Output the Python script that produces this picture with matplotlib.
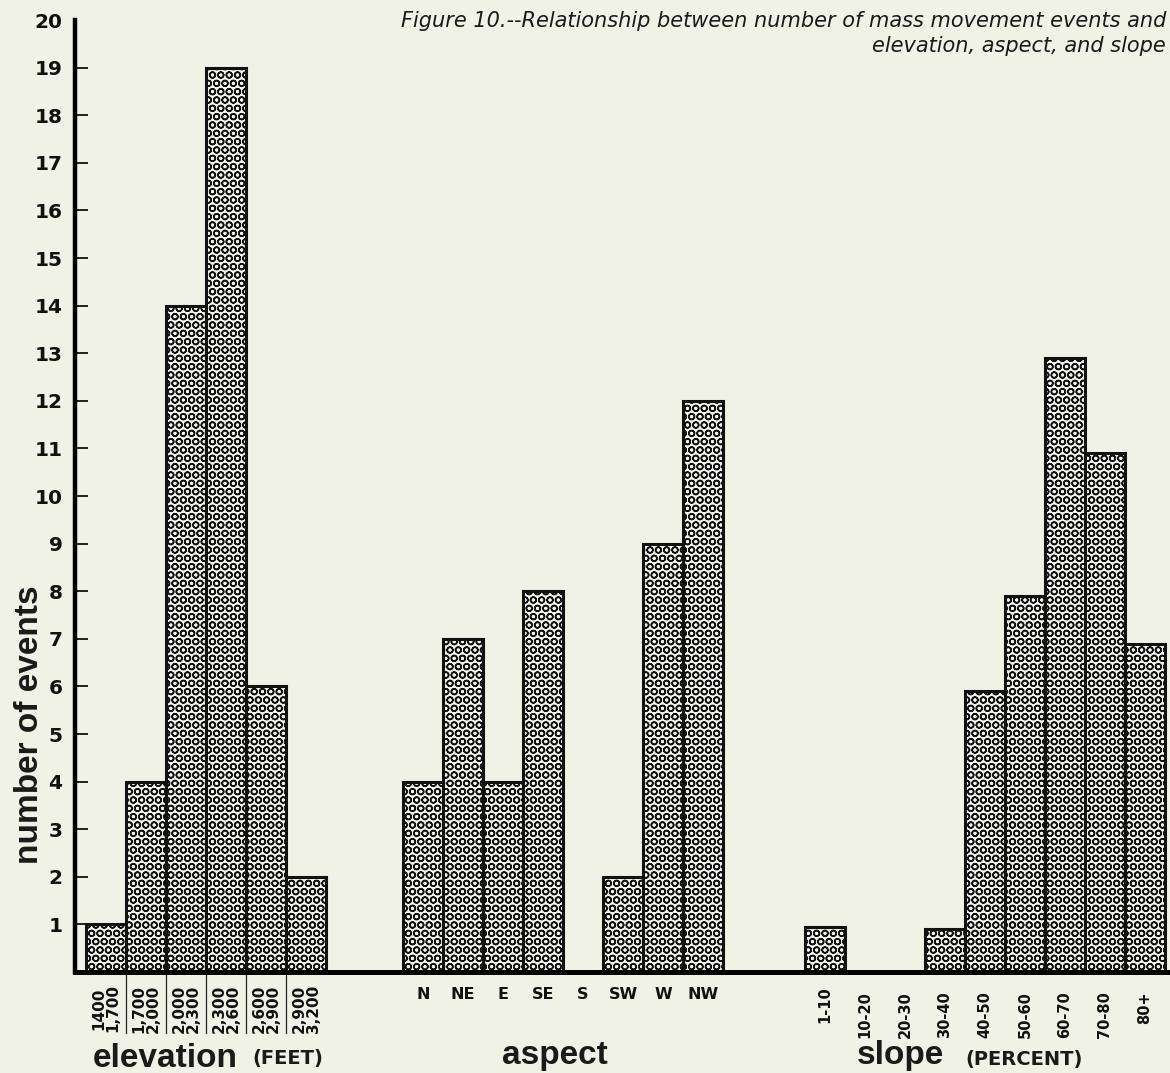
import numpy as np
import matplotlib.pyplot as plt
import matplotlib.transforms as mtransforms

# ------------------------- DATA -------------------------
elev_labels = ['1400\n1,700', '1,700\n2,000', '2,000\n2,300', '2,300\n2,600', '2,600\n2,900', '2,900\n3,200']
elev_counts = [1, 4, 14, 19, 6, 2]

aspect_labels = ['N', 'NE', 'E', 'SE', 'S', 'SW', 'W', 'NW']
aspect_counts = [4, 7, 4, 8, 0, 2, 9, 12]

slope_labels = ['1-10', '10-20', '20-30', '30-40', '40-50', '50-60', '60-70', '70-80', '80+']
slope_counts = [0.95, 0, 0, 0.9, 5.9, 7.9, 12.9, 10.9, 6.9]

y_ticks = list(range(1, 21))

caption_1 = 'Figure 10.--Relationship between number of mass movement events and'
caption_2 = 'elevation, aspect, and slope'

# group start positions (in bar widths from the y axis)
elev_start = 0.78
aspect_start = 8.7
slope_start = 18.75

bg = '#f0f2e6'
bold_font = 'Liberation Sans'


def driver():
    plt.rcParams['hatch.linewidth'] = 1.1
    plt.rcParams['hatch.color'] = '#3c3c3c'

    fig = plt.figure(figsize=(11.7, 10.73), dpi=100, facecolor=bg)
    ax = fig.add_axes([75 / 1170, 101 / 1073, 1 - 75 / 1170, 952 / 1073])
    ax.set_facecolor(bg)

    x_elev = elev_start + np.arange(len(elev_counts))
    x_asp = aspect_start + np.arange(len(aspect_counts))
    x_slope = slope_start + np.arange(len(slope_counts))

    for xs, ys in [(x_elev, elev_counts), (x_asp, aspect_counts), (x_slope, slope_counts)]:
        for x, y in zip(xs, ys):
            if y <= 0:
                continue
            ax.bar(x, y, width=1.0, facecolor='#f4f4ee', edgecolor='#111111',
                   linewidth=2.2, hatch='OO', zorder=2)

    ax.set_xlim(0, 27.375)
    ax.set_ylim(0, 20)

    for s in ['top', 'right']:
        ax.spines[s].set_visible(False)
    ax.spines['left'].set_linewidth(3.2)
    ax.spines['bottom'].set_linewidth(3.6)
    ax.spines['left'].set_zorder(5)
    ax.spines['bottom'].set_zorder(5)

    ax.set_yticks(y_ticks)
    ax.set_yticklabels([str(v) for v in y_ticks], fontsize=14.5, fontweight='bold',
                       family='DejaVu Sans')
    ax.tick_params(axis='y', direction='in', length=9, width=1.3, pad=9, colors='#111111')
    ax.yaxis.get_major_ticks()[-1].tick1line.set_visible(False)

    ax.set_xticks([])

    trans = mtransforms.blended_transform_factory(ax.transData, ax.transAxes)

    # elevation labels, two lines rotated
    for x, lab in zip(x_elev, elev_labels):
        ax.text(x, -0.013, lab, transform=trans, rotation=90, ha='center', va='top',
                fontsize=11, fontweight='bold', family='DejaVu Sans', linespacing=0.9,
                color='#111111')
    for x in x_elev[:-1] + 0.5:
        ax.plot([x, x], [0, -0.064], transform=trans, color='#222222', lw=0.9, clip_on=False)

    for x, lab in zip(x_asp, aspect_labels):
        ax.text(x, -0.016, lab, transform=trans, ha='center', va='top',
                fontsize=11.5, fontweight='bold', family='DejaVu Sans', color='#111111')

    for i, (x, lab) in enumerate(zip(x_slope, slope_labels)):
        ax.text(x, -0.015 if i == 0 else -0.02, lab, transform=trans, rotation=90,
                ha='center', va='top', fontsize=10.5, fontweight='bold',
                family='DejaVu Sans', color='#111111')

    # group titles
    fig.text(93 / 1170, 1 - 1067 / 1073, 'elevation', fontsize=24, fontweight='bold',
             family=bold_font, ha='left', va='baseline', color='#1a1a1a')
    fig.text(252 / 1170, 1 - 1064 / 1073, '(FEET)', fontsize=14, fontweight='bold',
             family='DejaVu Sans', ha='left', va='baseline', color='#1a1a1a')
    fig.text(555 / 1170, 1 - 1064 / 1073, 'aspect', fontsize=24, fontweight='bold',
             family=bold_font, ha='center', va='baseline', color='#1a1a1a')
    fig.text(857 / 1170, 1 - 1064 / 1073, 'slope', fontsize=24, fontweight='bold',
             family=bold_font, ha='left', va='baseline', color='#1a1a1a')
    fig.text(965 / 1170, 1 - 1065 / 1073, '(PERCENT)', fontsize=14, fontweight='bold',
             family='DejaVu Sans', ha='left', va='baseline', color='#1a1a1a')

    fig.text(30 / 1170, 1 - 725 / 1073, 'number of events', rotation=90, fontsize=24,
             fontweight='bold', family=bold_font, ha='center', va='center', color='#1a1a1a')

    # figure caption
    cap_kw = dict(fontsize=15, style='italic', family='DejaVu Sans', color='#1a1a1a',
                  ha='right', va='baseline')
    fig.text(1166 / 1170, 1 - 27 / 1073, caption_1, **cap_kw)
    fig.text(1166 / 1170, 1 - 52 / 1073, caption_2, **cap_kw)

    fig.savefig('out.png', dpi=100, facecolor=bg)


if __name__ == "__main__":
    driver()
